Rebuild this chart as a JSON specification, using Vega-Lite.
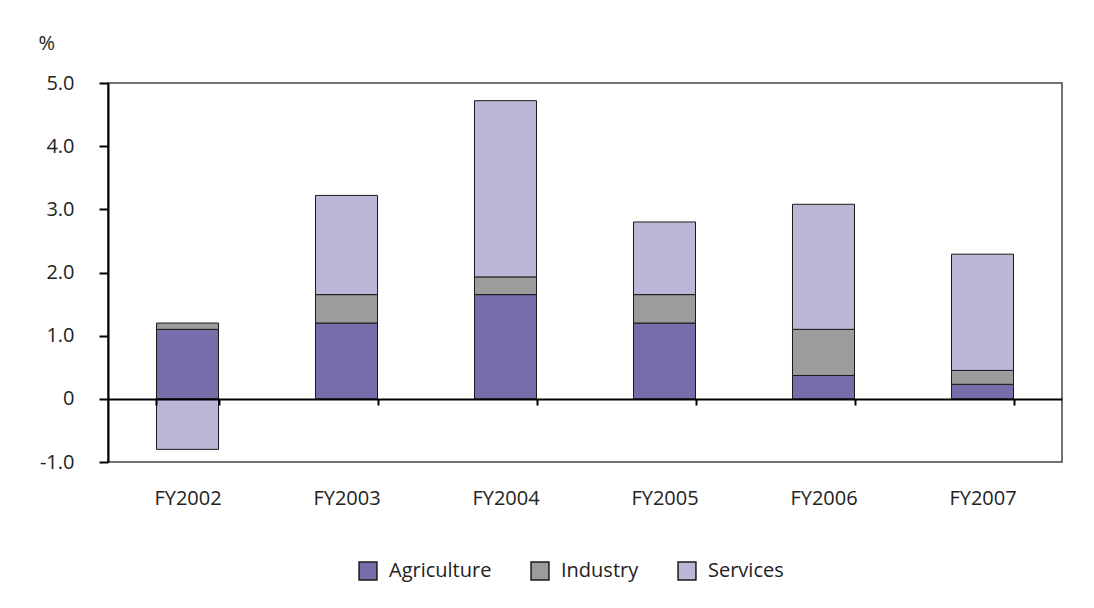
{
  "$schema": "https://vega.github.io/schema/vega-lite/v6.json",
  "autosize": "none",
  "width": 954,
  "height": 379,
  "padding": {"left": 108, "top": 83, "right": 32, "bottom": 146},
  "background": "white",
  "config": {
    "font": "Open Sans",
    "view": {"stroke": "#444", "strokeWidth": 1.5}
  },
  "data": {
    "values": [
      {"year": "FY2002", "sector": "Agriculture", "ord": 1, "value": 1.1},
      {"year": "FY2002", "sector": "Industry", "ord": 2, "value": 0.1},
      {"year": "FY2002", "sector": "Services", "ord": 3, "value": -0.8},
      {"year": "FY2003", "sector": "Agriculture", "ord": 1, "value": 1.2},
      {"year": "FY2003", "sector": "Industry", "ord": 2, "value": 0.45},
      {"year": "FY2003", "sector": "Services", "ord": 3, "value": 1.57},
      {"year": "FY2004", "sector": "Agriculture", "ord": 1, "value": 1.65},
      {"year": "FY2004", "sector": "Industry", "ord": 2, "value": 0.28},
      {"year": "FY2004", "sector": "Services", "ord": 3, "value": 2.79},
      {"year": "FY2005", "sector": "Agriculture", "ord": 1, "value": 1.2},
      {"year": "FY2005", "sector": "Industry", "ord": 2, "value": 0.45},
      {"year": "FY2005", "sector": "Services", "ord": 3, "value": 1.15},
      {"year": "FY2006", "sector": "Agriculture", "ord": 1, "value": 0.37},
      {"year": "FY2006", "sector": "Industry", "ord": 2, "value": 0.73},
      {"year": "FY2006", "sector": "Services", "ord": 3, "value": 1.98},
      {"year": "FY2007", "sector": "Agriculture", "ord": 1, "value": 0.23},
      {"year": "FY2007", "sector": "Industry", "ord": 2, "value": 0.22},
      {"year": "FY2007", "sector": "Services", "ord": 3, "value": 1.84}
    ]
  },
  "mark": {"type": "bar", "stroke": "#1a1a1a", "strokeWidth": 1, "opacity": 1},
  "encoding": {
    "x": {
      "field": "year",
      "type": "nominal",
      "title": null,
      "scale": {"paddingInner": 0.61, "paddingOuter": 0.305},
      "axis": {
        "orient": "bottom",
        "offset": -63,
        "domainColor": "black",
        "domainWidth": 2,
        "tickColor": "black",
        "tickWidth": 2,
        "tickSize": 6,
        "tickBand": "extent",
        "labelAngle": 0,
        "labelPadding": 83,
        "labelFontSize": 20,
        "labelColor": "#222",
        "zindex": 1
      }
    },
    "y": {
      "field": "value",
      "type": "quantitative",
      "stack": "zero",
      "scale": {"domain": [-1, 5], "nice": false, "zero": false},
      "axis": {
        "values": [-1, 0, 1, 2, 3, 4, 5],
        "labelExpr": "datum.value == 0 ? '0' : replace(format(datum.value, '.1f'), '\u2212', '-')",
        "grid": false,
        "domainColor": "black",
        "domainWidth": 2,
        "tickColor": "black",
        "tickWidth": 2,
        "tickSize": 9,
        "labelPadding": 25,
        "labelFontSize": 20,
        "labelColor": "#222",
        "title": "%",
        "titleAngle": 0,
        "titleX": -70,
        "titleY": -40,
        "titleAlign": "left",
        "titleBaseline": "middle",
        "titleFontSize": 20,
        "titleFontWeight": "normal",
        "titleColor": "#222",
        "zindex": 1
      }
    },
    "color": {
      "field": "sector",
      "type": "nominal",
      "scale": {
        "domain": ["Agriculture", "Industry", "Services"],
        "range": ["#766eaa", "#9c9c9c", "#bbb7d7"]
      },
      "legend": {
        "title": null,
        "orient": "none",
        "direction": "horizontal",
        "legendX": 250,
        "legendY": 478,
        "symbolType": "square",
        "symbolSize": 320,
        "symbolStrokeColor": "#1a1a1a",
        "symbolStrokeWidth": 1.5,
        "symbolOpacity": 1,
        "labelFontSize": 20,
        "labelColor": "#222",
        "labelOffset": 11,
        "columnPadding": 36
      }
    },
    "order": {"field": "ord", "type": "quantitative"}
  }
}
